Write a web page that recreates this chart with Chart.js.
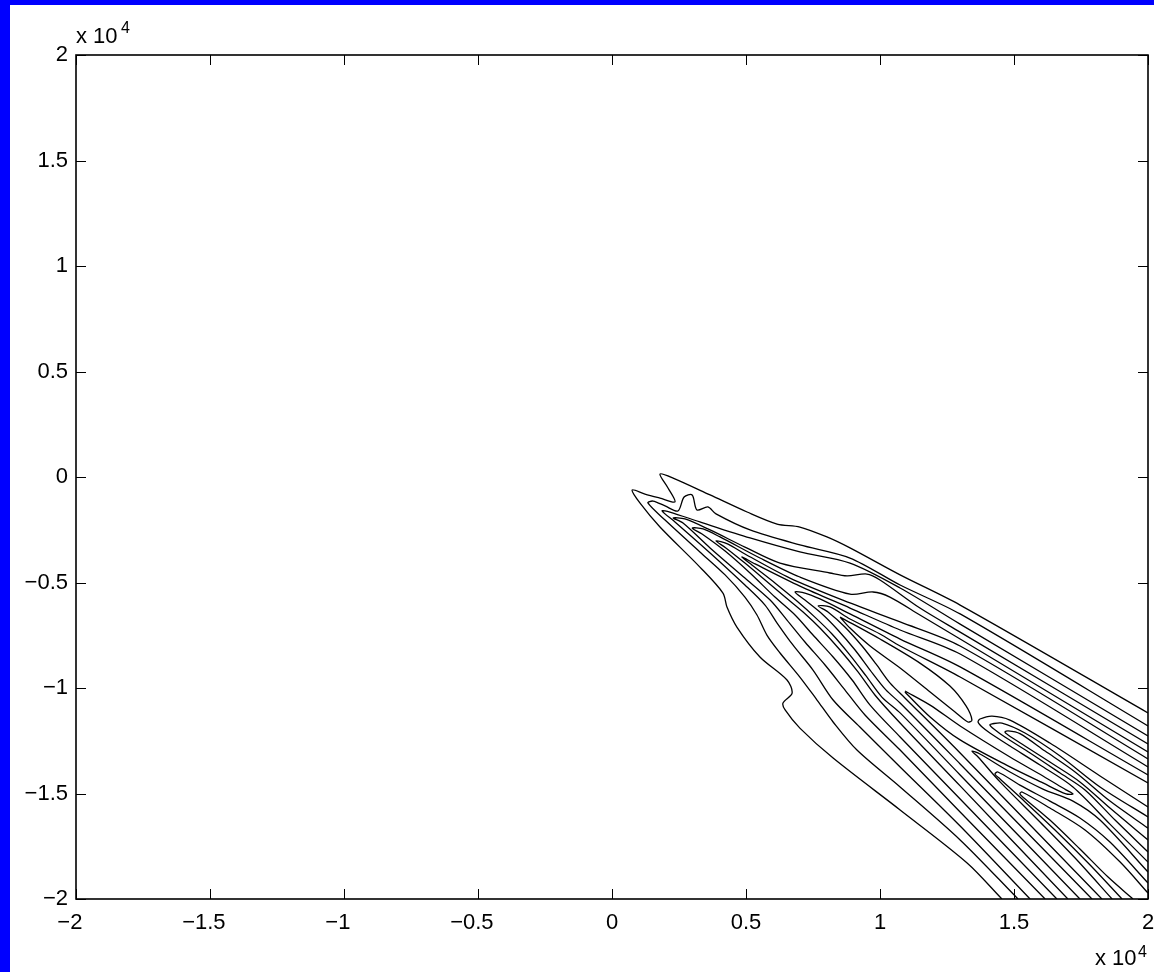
<!DOCTYPE html>
<html>
<head>
<meta charset="utf-8">
<script src="https://cdn.jsdelivr.net/npm/chart.js@4.4.1/dist/chart.umd.min.js"></script>
<style>
  html, body { margin: 0; padding: 0; background: #0000ff; }
  #frame { position: absolute; left: 10px; top: 5px; width: 1144px; height: 967px; background: #fff; }
  canvas { display: block; }
</style>
</head>
<body>
<div id="frame"><canvas id="contour" width="1144" height="967"></canvas></div>
<script>
// axis ticks, in units of 10^4
const xTicks = [-2, -1.5, -1, -0.5, 0, 0.5, 1, 1.5, 2];
const yTicks = [-2, -1.5, -1, -0.5, 0, 0.5, 1, 1.5, 2];

// contour lines, [x, y] in units of 10^4
const c1 = [[1.455,-2.000],[1.325,-1.829],[1.075,-1.578],[0.825,-1.332],[0.701,-1.190],[0.646,-1.104],[0.638,-1.071],[0.672,-1.024],[0.653,-0.962],[0.552,-0.853],[0.466,-0.711],[0.429,-0.616],[0.414,-0.550],[0.328,-0.427],[0.179,-0.237],[0.104,-0.123],[0.075,-0.062],[0.123,-0.081],[0.179,-0.100],[0.235,-0.118],[0.209,-0.052],[0.179,0.014],[0.228,-0.005],[0.366,-0.085],[0.504,-0.166],[0.616,-0.223],[0.701,-0.237],[0.802,-0.284],[0.888,-0.336],[1.075,-0.464],[1.299,-0.607],[2.000,-1.118]];
const c2 = [[1.515,-2.000],[1.299,-1.720],[1.075,-1.469],[0.914,-1.294],[0.825,-1.161],[0.765,-1.057],[0.701,-0.948],[0.627,-0.834],[0.578,-0.749],[0.541,-0.654],[0.496,-0.569],[0.422,-0.464],[0.328,-0.355],[0.198,-0.204],[0.134,-0.123],[0.153,-0.114],[0.198,-0.137],[0.246,-0.161],[0.269,-0.095],[0.299,-0.085],[0.317,-0.156],[0.358,-0.142],[0.388,-0.175],[0.515,-0.251],[0.701,-0.322],[0.888,-0.384],[1.075,-0.512],[1.299,-0.649],[2.000,-1.180]];
const c3 = [[1.560,-2.000],[1.299,-1.654],[1.075,-1.374],[0.925,-1.185],[0.825,-1.057],[0.750,-0.915],[0.675,-0.796],[0.616,-0.692],[0.571,-0.607],[0.496,-0.512],[0.366,-0.360],[0.235,-0.213],[0.187,-0.161],[0.216,-0.166],[0.328,-0.213],[0.515,-0.289],[0.701,-0.355],[0.888,-0.408],[1.075,-0.526],[1.299,-0.697],[2.000,-1.227]];
const c4 = [[1.616,-2.000],[1.299,-1.588],[1.075,-1.294],[0.944,-1.128],[0.869,-1.009],[0.795,-0.891],[0.720,-0.782],[0.653,-0.678],[0.590,-0.583],[0.496,-0.479],[0.366,-0.336],[0.265,-0.218],[0.228,-0.194],[0.272,-0.199],[0.366,-0.251],[0.496,-0.332],[0.627,-0.408],[0.813,-0.455],[0.877,-0.469],[0.951,-0.460],[1.000,-0.488],[1.149,-0.621],[1.299,-0.735],[2.000,-1.265]];
const c5 = [[1.660,-2.000],[1.299,-1.526],[1.075,-1.232],[0.963,-1.081],[0.896,-0.962],[0.825,-0.853],[0.750,-0.749],[0.683,-0.654],[0.608,-0.569],[0.515,-0.455],[0.422,-0.351],[0.336,-0.270],[0.299,-0.242],[0.340,-0.246],[0.403,-0.284],[0.552,-0.384],[0.701,-0.474],[0.888,-0.555],[0.974,-0.545],[1.037,-0.569],[1.149,-0.654],[1.299,-0.768],[2.000,-1.303]];
const c6 = [[1.701,-2.000],[1.299,-1.464],[1.075,-1.166],[0.981,-1.033],[0.918,-0.924],[0.851,-0.820],[0.776,-0.716],[0.713,-0.640],[0.646,-0.569],[0.571,-0.488],[0.496,-0.408],[0.425,-0.336],[0.388,-0.303],[0.433,-0.318],[0.496,-0.365],[0.664,-0.479],[0.888,-0.597],[1.075,-0.687],[1.299,-0.801],[2.000,-1.336]];
const c7 = [[1.746,-2.000],[1.299,-1.412],[1.075,-1.118],[1.007,-1.043],[0.948,-0.943],[0.888,-0.844],[0.821,-0.744],[0.757,-0.664],[0.690,-0.588],[0.608,-0.502],[0.522,-0.417],[0.485,-0.379],[0.534,-0.412],[0.701,-0.517],[0.888,-0.621],[1.075,-0.725],[1.299,-0.839],[2.000,-1.374]];
const c8 = [[1.791,-2.000],[1.299,-1.360],[1.075,-1.071],[1.022,-1.009],[0.963,-0.915],[0.907,-0.820],[0.843,-0.725],[0.784,-0.649],[0.720,-0.583],[0.683,-0.545],[0.720,-0.550],[0.776,-0.578],[0.888,-0.649],[1.075,-0.768],[1.299,-0.900],[2.000,-1.412]];
const c9 = [[1.828,-2.000],[1.299,-1.308],[1.093,-1.047],[1.037,-0.976],[0.985,-0.886],[0.933,-0.801],[0.869,-0.711],[0.806,-0.640],[0.769,-0.611],[0.813,-0.616],[0.888,-0.673],[1.000,-0.744],[1.075,-0.801],[1.299,-0.948],[2.000,-1.450]];
const f1 = [[0.851,-0.664],[1.000,-0.768],[1.149,-0.882],[1.261,-0.991],[1.321,-1.085],[1.343,-1.152],[1.328,-1.161],[1.280,-1.114],[1.187,-1.019],[1.075,-0.905],[0.963,-0.801],[0.888,-0.716],[0.851,-0.664]];
const f2 = [[1.093,-1.014],[1.187,-1.081],[1.299,-1.180],[1.485,-1.327],[1.608,-1.417],[1.694,-1.483],[1.720,-1.502],[1.694,-1.502],[1.608,-1.450],[1.485,-1.374],[1.299,-1.246],[1.187,-1.137],[1.093,-1.019]];
const h1 = [[2.000,-1.564],[1.821,-1.417],[1.634,-1.261],[1.485,-1.152],[1.418,-1.133],[1.373,-1.147],[1.366,-1.161],[1.381,-1.185],[1.410,-1.213],[1.485,-1.275],[1.597,-1.365],[1.720,-1.469],[1.858,-1.645],[2.000,-1.825]];
const h2 = [[2.000,-1.611],[1.821,-1.469],[1.672,-1.322],[1.541,-1.213],[1.455,-1.166],[1.418,-1.170],[1.410,-1.175],[1.425,-1.194],[1.466,-1.232],[1.560,-1.308],[1.672,-1.403],[1.765,-1.483],[1.877,-1.626],[2.000,-1.777]];
const h3 = [[2.000,-1.664],[1.858,-1.536],[1.728,-1.398],[1.616,-1.299],[1.522,-1.216],[1.478,-1.203],[1.466,-1.209],[1.478,-1.223],[1.541,-1.275],[1.634,-1.351],[1.746,-1.445],[1.858,-1.569],[2.000,-1.720]];
const g1 = [[2.000,-1.872],[1.821,-1.626],[1.720,-1.536],[1.608,-1.479],[1.485,-1.398],[1.373,-1.313],[1.343,-1.299],[1.366,-1.327],[1.448,-1.445],[1.597,-1.635],[1.728,-1.806],[1.866,-2.000]];
const g2 = [[2.000,-1.924],[1.858,-1.730],[1.746,-1.616],[1.634,-1.536],[1.522,-1.460],[1.440,-1.398],[1.429,-1.408],[1.448,-1.431],[1.522,-1.517],[1.653,-1.673],[1.784,-1.839],[1.903,-2.000]];
const g3 = [[2.000,-1.972],[1.896,-1.825],[1.765,-1.673],[1.634,-1.569],[1.530,-1.493],[1.522,-1.502],[1.537,-1.521],[1.634,-1.626],[1.746,-1.763],[1.851,-1.896],[1.944,-2.000]];

const contours = [c1, c2, c3, c4, c5, c6, c7, c8, c9, f1, f2, h1, h2, h3, g1, g2, g3];

function tickText(v, xAxis) {
  let s = String(Math.abs(v));
  if (v < 0) s = '\u2212' + s + (xAxis ? '\u2007' : '');
  return s;
}

// box round the plot with MATLAB style inward ticks, plus the exponent labels
const boxPlugin = {
  id: 'box',
  afterDraw(chart) {
    const ctx = chart.ctx;
    const a = chart.chartArea;
    const xs = chart.scales.x, ys = chart.scales.y;
    ctx.save();
    ctx.strokeStyle = '#000';
    ctx.lineWidth = 1;
    ctx.beginPath();
    xTicks.forEach(v => {
      const px = Math.round(xs.getPixelForValue(v)) + 0.5;
      ctx.moveTo(px, a.bottom); ctx.lineTo(px, a.bottom - 10);
      ctx.moveTo(px, a.top); ctx.lineTo(px, a.top + 10);
    });
    yTicks.forEach(v => {
      const py = Math.round(ys.getPixelForValue(v)) + 0.5;
      ctx.moveTo(a.left, py); ctx.lineTo(a.left + 10, py);
      ctx.moveTo(a.right, py); ctx.lineTo(a.right - 10, py);
    });
    ctx.stroke();
    ctx.lineWidth = 1.6;
    ctx.strokeRect(a.left, a.top, a.right - a.left, a.bottom - a.top);

    ctx.fillStyle = '#000';
    ctx.textBaseline = 'alphabetic';
    ctx.textAlign = 'left';
    ctx.font = '22px "Liberation Sans", Arial, sans-serif';
    ctx.fillText('x 10', a.left, a.top - 12);
    ctx.fillText('x 10', a.right - 53, a.bottom + 66);
    ctx.font = '16px "Liberation Sans", Arial, sans-serif';
    ctx.fillText('4', a.left + 45, a.top - 22);
    ctx.fillText('4', a.right - 10, a.bottom + 58);
    ctx.restore();
  }
};

const font = { family: '"Liberation Sans", Arial, sans-serif', size: 22 };

new Chart(document.getElementById('contour'), {
  type: 'scatter',
  data: {
    datasets: contours.map(c => ({
      data: c.map(p => ({ x: p[0], y: p[1] })),
      showLine: true,
      borderColor: '#000',
      borderWidth: 1.3,
      pointRadius: 0,
      tension: 0.3,
      fill: false
    }))
  },
  options: {
    responsive: false,
    animation: false,
    layout: { padding: { left: 0, right: 6, top: 50, bottom: 0 } },
    plugins: { legend: { display: false }, tooltip: { enabled: false } },
    scales: {
      x: {
        type: 'linear', min: -2, max: 2,
        afterFit: s => { s.height = 73; s.paddingLeft = 0; s.paddingRight = 0; },
        afterBuildTicks: s => { s.ticks = xTicks.map(v => ({ value: v })); },
        grid: { display: false, drawTicks: false },
        border: { display: false },
        ticks: { color: '#000', font, padding: 11, maxRotation: 0, callback: v => tickText(v, true) }
      },
      y: {
        type: 'linear', min: -2, max: 2,
        afterFit: s => { s.width = 66; s.paddingTop = 0; s.paddingBottom = 0; },
        afterBuildTicks: s => { s.ticks = yTicks.map(v => ({ value: v })); },
        grid: { display: false, drawTicks: false },
        border: { display: false },
        ticks: { color: '#000', font, padding: 8, callback: v => tickText(v, false) }
      }
    }
  },
  plugins: [boxPlugin]
});
</script>
</body>
</html>
